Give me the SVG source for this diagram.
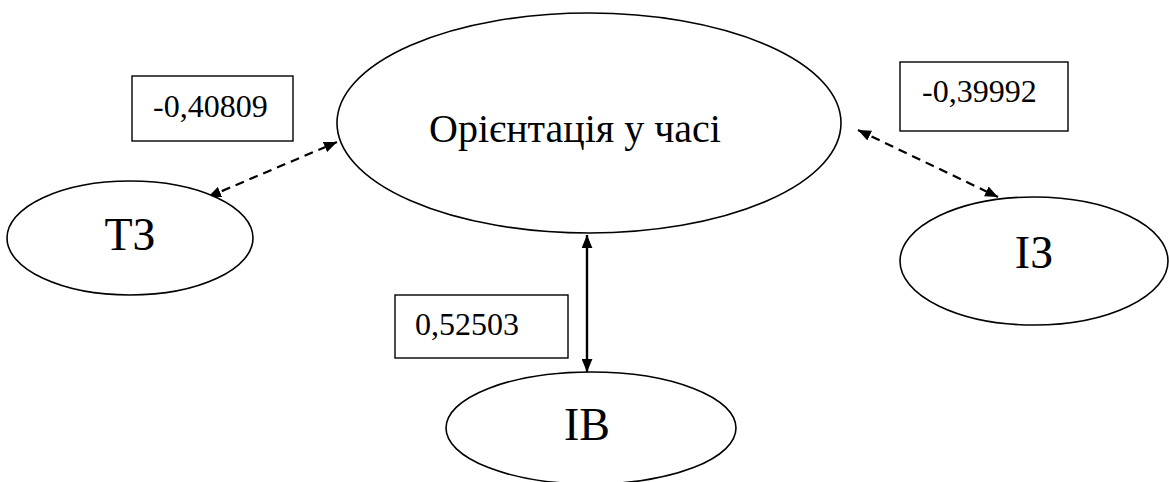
<svg xmlns="http://www.w3.org/2000/svg" width="1169" height="482" viewBox="0 0 1169 482">
<style>
.node{fill:#fff;stroke:#000;stroke-width:1.6}
.box{fill:#fff;stroke:#000;stroke-width:1.4}
text{font-family:'Liberation Serif','Times New Roman',serif;fill:#000}
.big{font-size:46px;text-anchor:middle}
.main{font-size:40px;text-anchor:middle}
.lbl{font-size:32px}
.dash{stroke:#000;stroke-width:2.2;stroke-dasharray:9 6;fill:none}
.solid{stroke:#000;stroke-width:2.4;fill:none}
</style>
<defs>
<marker id="ah" viewBox="0 0 12 10" refX="12" refY="5" markerWidth="13" markerHeight="11" markerUnits="userSpaceOnUse" orient="auto-start-reverse">
<path d="M0,0 L12,5 L0,10 z" fill="#000"/>
</marker>
</defs>
<g id="connectors">
<line class="dash" x1="208" y1="197" x2="337" y2="142" marker-start="url(#ah)" marker-end="url(#ah)"/>
<line class="dash" x1="858" y1="130" x2="998" y2="197" marker-start="url(#ah)" marker-end="url(#ah)"/>
<line class="solid" x1="587" y1="235" x2="587" y2="372" marker-start="url(#ah)" marker-end="url(#ah)"/>
</g>
<g id="node-main">
<ellipse class="node" cx="589" cy="123" rx="252" ry="110"/>
<text class="main" x="575" y="142">Орієнтація у часі</text>
</g>
<g id="node-tz">
<ellipse class="node" cx="130" cy="238" rx="123" ry="57"/>
<text class="big" x="130" y="250">ТЗ</text>
</g>
<g id="node-iz">
<ellipse class="node" cx="1034" cy="261" rx="134" ry="64"/>
<text class="big" x="1034" y="268">ІЗ</text>
</g>
<g id="node-iv">
<ellipse class="node" cx="591" cy="428" rx="145" ry="56"/>
<text class="big" x="587" y="440">ІВ</text>
</g>
<g id="label-1">
<rect class="box" x="132" y="76" width="161" height="65"/>
<text class="lbl" x="153" y="117">-0,40809</text>
</g>
<g id="label-2">
<rect class="box" x="900" y="62" width="168" height="69"/>
<text class="lbl" x="922" y="102">-0,39992</text>
</g>
<g id="label-3">
<rect class="box" x="395" y="295" width="173" height="63"/>
<text class="lbl" x="415" y="335">0,52503</text>
</g>
</svg>
